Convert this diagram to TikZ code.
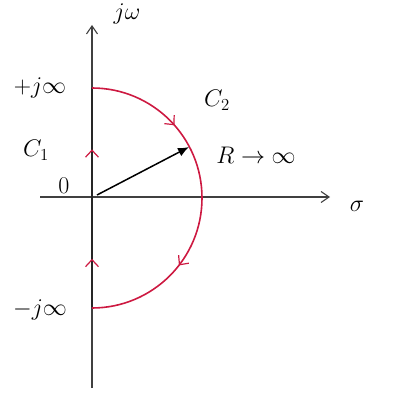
\documentclass[tikz,border=0pt]{standalone}
\usepackage{fix-cm}
\usetikzlibrary{arrows.meta,decorations.markings}
\definecolor{cred}{RGB}{205,25,65}
\begin{document}
\begin{tikzpicture}[x=1pt,y=1pt,
  lbl/.style={font=\fontsize{24}{28}\selectfont, inner sep=0pt},
  axis/.style={draw=black!75, line width=1.1pt},
  redmark/.style={postaction={decorate},decoration={markings,
     mark=at position #1 with {\arrow[cred,line width=1.2pt]{Straight Barb[length=7pt,width=13pt]}}}}
]
\useasboundingbox (0,0) rectangle (395,394);
\coordinate (O) at (92,197);
\coordinate (top) at (92,369);
\coordinate (bot) at (92,6);
\coordinate (left) at (40,197);
\coordinate (right) at (330,197);
\coordinate (Pp) at (92,306);
\coordinate (Pm) at (92,87);
\coordinate (Rs) at (97,199);
\coordinate (Re) at (189,247);
% axes
\draw[axis,-{Straight Barb[length=8pt,width=11pt]}] (left) -- (right);
\draw[axis,-{Straight Barb[length=8pt,width=11pt]}] (bot) -- (top);
% C1
\draw[black!85,line width=2.4pt] (Pm) -- (Pp);
\path[redmark=0.22] (Pm) -- (Pp);
\path[redmark=0.72] (Pm) -- (Pp);
% C2
\draw[cred,line width=1.6pt,
  postaction={decorate},decoration={markings,
    mark=at position 0.27 with {\arrow[cred,line width=1.2pt]{Straight Barb[length=7pt,width=13pt]}},
    mark=at position 0.71 with {\arrow[cred,line width=1.2pt]{Straight Barb[length=7pt,width=13pt]}}}]
  (Pp) arc[start angle=90,end angle=-90,radius=110];
% R arrow
\draw[black,line width=1.5pt,-{Latex[length=11pt,width=9pt]}] (Rs) -- (Re);
% labels
\node[lbl] (jw) at (127,380) {$j\omega$};
\node[lbl] (pj) at (40,306) {$+j\infty$};
\node[lbl] (mj) at (40,84) {$-j\infty$};
\node[lbl] (c1) at (36,244) {$C_1$};
\node[lbl] (zero) at (64,208) {$0$};
\node[lbl] (c2) at (217,294) {$C_2$};
\node[lbl] (R) at (256,239) {$R\to\infty$};
\node[lbl] (sig) at (357,188) {$\sigma$};
\end{tikzpicture}
\end{document}
